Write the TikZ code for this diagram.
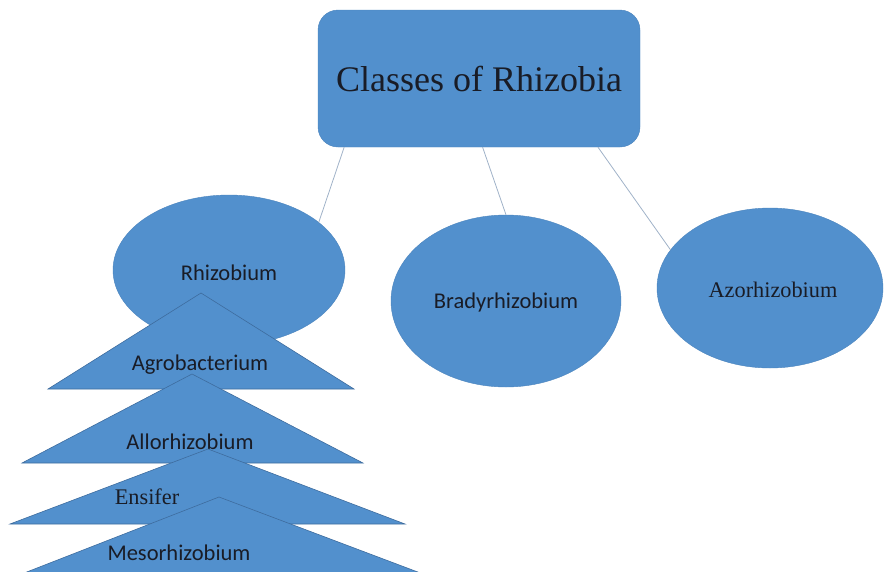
\documentclass[tikz,border=0pt]{standalone}
\usepackage{fontspec}
\setmainfont{Liberation Serif}
\newfontfamily\calibri{Carlito}
\usetikzlibrary{shapes.geometric}

\definecolor{rhizblau}{RGB}{82,144,205}
\definecolor{rhizrand}{RGB}{62,108,158}
\definecolor{linie}{RGB}{160,178,200}
\definecolor{schrift}{RGB}{25,28,38}

\tikzset{
  klasse/.style={ellipse, fill=rhizblau, draw=rhizblau!92!black, line width=0.4pt, inner sep=0pt},
  dreieck/.style={fill=rhizblau, draw=rhizrand, line width=0.6pt},
  sans/.style={font=\calibri\fontsize{22.5}{26}\selectfont, text=schrift},
  serif/.style={font=\fontsize{22.3}{26}\selectfont, text=schrift},
  verbindung/.style={draw=linie, line width=0.8pt}
}

\begin{document}
\begin{tikzpicture}[x=1pt,y=-1pt]
    \clip (0,0) rectangle (884,571);

    % Kopf
    \node[fill=rhizblau, draw=rhizblau!92!black, rounded corners=20pt, minimum width=322pt, minimum height=137pt, inner sep=0pt, font=\fontsize{36}{40}\selectfont, text=schrift] (klassen) at (479,78.5) {Classes of Rhizobia};

    % Klassen
    \node[klasse, minimum width=232pt, minimum height=150pt] (rhizo) at (229,270) {};
    \node[sans] (rhizotext) at (229,273) {Rhizobium};
    \node[klasse, minimum width=230pt, minimum height=172pt] (brady) at (506,301) {};
    \node[sans] (bradytext) at (506,302) {Bradyrhizobium};
    \node[klasse, minimum width=226pt, minimum height=160pt] (azo) at (770,288) {};
    \node[serif] (azotext) at (773,290) {Azorhizobium};

    % Verbindungen
    \draw[verbindung] (klassen.207.8) -- (rhizo.28);
    \draw[verbindung] (klassen.273.3) -- (brady.north);
    \draw[verbindung] (klassen.330) -- (azo.159);

    % Gattungen
    \filldraw[dreieck] (201,293) -- (354,389) -- (48,389) -- cycle;
    \node[sans] (agro) at (200,365) {Agrobacterium};

    \filldraw[dreieck] (192,374) -- (363,463) -- (22,463) -- cycle;
    \node[sans] (allo) at (190,442) {Allorhizobium};

    \filldraw[dreieck] (208,449) -- (405,524) -- (10,524) -- cycle;
    \node[serif] (ensi) at (147,497) {Ensifer};

    \filldraw[dreieck] (219,497) -- (492,600) -- (-45,600) -- cycle;
    \node[sans] (meso) at (179,553) {Mesorhizobium};
\end{tikzpicture}
\end{document}
